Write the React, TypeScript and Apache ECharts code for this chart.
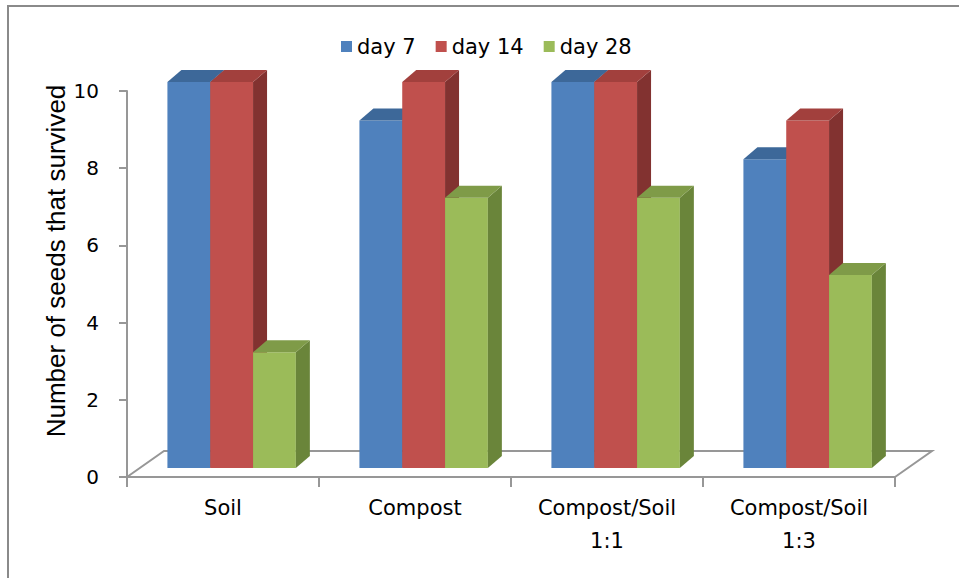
import React, { useEffect, useRef } from "react";
import * as echarts from "echarts";

const categories = ["Soil", "Compost", "Compost/Soil\n1:1", "Compost/Soil\n1:3"];
const seriesNames = ["day 7", "day 14", "day 28"];
const day7 = [10, 9, 10, 8];
const day14 = [10, 10, 10, 9];
const day28 = [3, 7, 7, 5];
const yMin = 0;
const yMax = 10;
const yInterval = 2;

const palettes = [
  { front: "#4F81BD", top: "#3D6899", side: "#34577F" },
  { front: "#C0504D", top: "#A2403D", side: "#823230" },
  { front: "#9BBB59", top: "#7F9B48", side: "#6A853A" },
];

const FONT = "DejaVu Sans";
const AXIS_COLOR = "#979797";

export default function App() {
  const ref = useRef<HTMLDivElement>(null);

  useEffect(() => {
    if (!ref.current) return;
    const chart = echarts.init(ref.current, null, { renderer: "svg" });
    const allSeries = [day7, day14, day28];

    const barSeries = allSeries.map((vals, s) => ({
      type: "custom",
      name: seriesNames[s],
      itemStyle: { color: palettes[s].front },
      encode: { x: 0, y: 1 },
      z: 3,
      data: vals.map((v, i) => [i, v]),
      renderItem: (params: any, api: any) => {
        const i = api.value(0);
        const v = api.value(1);
        const base = api.coord([i, 0]);
        const topPt = api.coord([i, v]);
        const catW = api.size([1, 0])[0];
        const barW = catW * 0.223;
        const shift = catW * 0.045;
        const dx = 14;
        const dy = -12;
        const x0 = base[0] + shift - 1.5 * barW + s * barW;
        const x1 = x0 + barW;
        const yb = base[1] - 9;
        const yt = topPt[1] - 9;
        const p = palettes[s];
        return {
          type: "group",
          children: [
            {
              type: "rect",
              shape: { x: x0, y: yt, width: barW, height: yb - yt },
              style: { fill: p.front },
            },
            {
              type: "polygon",
              shape: {
                points: [
                  [x1, yt],
                  [x1 + dx, yt + dy],
                  [x1 + dx, yb + dy],
                  [x1, yb],
                ],
              },
              style: { fill: p.side },
            },
            {
              type: "polygon",
              shape: {
                points: [
                  [x0, yt],
                  [x1, yt],
                  [x1 + dx, yt + dy],
                  [x0 + dx, yt + dy],
                ],
              },
              style: { fill: p.top },
            },
          ],
        };
      },
    }));

    const floorSeries = {
      type: "custom",
      name: "floor",
      silent: true,
      z: 1,
      data: [[0, 0]],
      encode: { x: 0, y: 1 },
      renderItem: (params: any, api: any) => {
        const cs = params.coordSys;
        const fl = [cs.x, cs.y + cs.height];
        const fr = [cs.x + cs.width, cs.y + cs.height];
        const ddx = 37;
        const ddy = -26;
        return {
          type: "polyline",
          shape: {
            points: [
              fl,
              [fl[0] + ddx, fl[1] + ddy],
              [fr[0] + ddx, fr[1] + ddy],
              fr,
            ],
          },
          style: { stroke: AXIS_COLOR, lineWidth: 2, fill: "none" },
        };
      },
    };

    chart.setOption({
      animation: false,
      backgroundColor: "#ffffff",
      legend: {
        data: seriesNames,
        left: 336,
        top: 31,
        icon: "rect",
        itemWidth: 11,
        itemHeight: 11,
        itemGap: 20,
        textStyle: { fontFamily: FONT, fontSize: 21, color: "#000" },
      },
      grid: { left: 127, right: 64, top: 91, bottom: 101 },
      xAxis: {
        type: "category",
        data: categories,
        boundaryGap: true,
        axisLine: { show: true, lineStyle: { color: AXIS_COLOR, width: 2 } },
        axisTick: {
          show: true,
          alignWithLabel: false,
          length: 10,
          lineStyle: { color: AXIS_COLOR, width: 2 },
        },
        axisLabel: {
          interval: 0,
          fontFamily: FONT,
          fontSize: 21,
          lineHeight: 33,
          margin: 14,
          color: "#000",
        },
        splitLine: { show: false },
      },
      yAxis: {
        type: "value",
        min: yMin,
        max: yMax,
        interval: yInterval,
        axisLine: { show: true, lineStyle: { color: AXIS_COLOR, width: 2 } },
        axisTick: { show: true, length: 8, lineStyle: { color: AXIS_COLOR, width: 2 } },
        axisLabel: {
          fontFamily: FONT,
          fontSize: 20,
          margin: 28,
          color: "#000",
        },
        splitLine: { show: false },
      },
      graphic: [
        {
          type: "rect",
          z: -10,
          shape: { x: 8, y: 6, width: 1200, height: 1000 },
          style: { fill: "none", stroke: "#8a8a8a", lineWidth: 2 },
        },
        {
          type: "text",
          x: 56,
          y: 261,
          rotation: Math.PI / 2,
          style: {
            text: "Number of seeds that survived",
            fontFamily: "Liberation Sans",
            fontSize: 26,
            fill: "#000",
            align: "center",
            verticalAlign: "middle",
          },
        },
      ],
      series: [floorSeries, ...barSeries],
    });

    return () => chart.dispose();
  }, []);

  return (
    <div
      ref={ref}
      style={{ position: "fixed", left: 0, top: 0, width: 959, height: 578 }}
    />
  );
}
